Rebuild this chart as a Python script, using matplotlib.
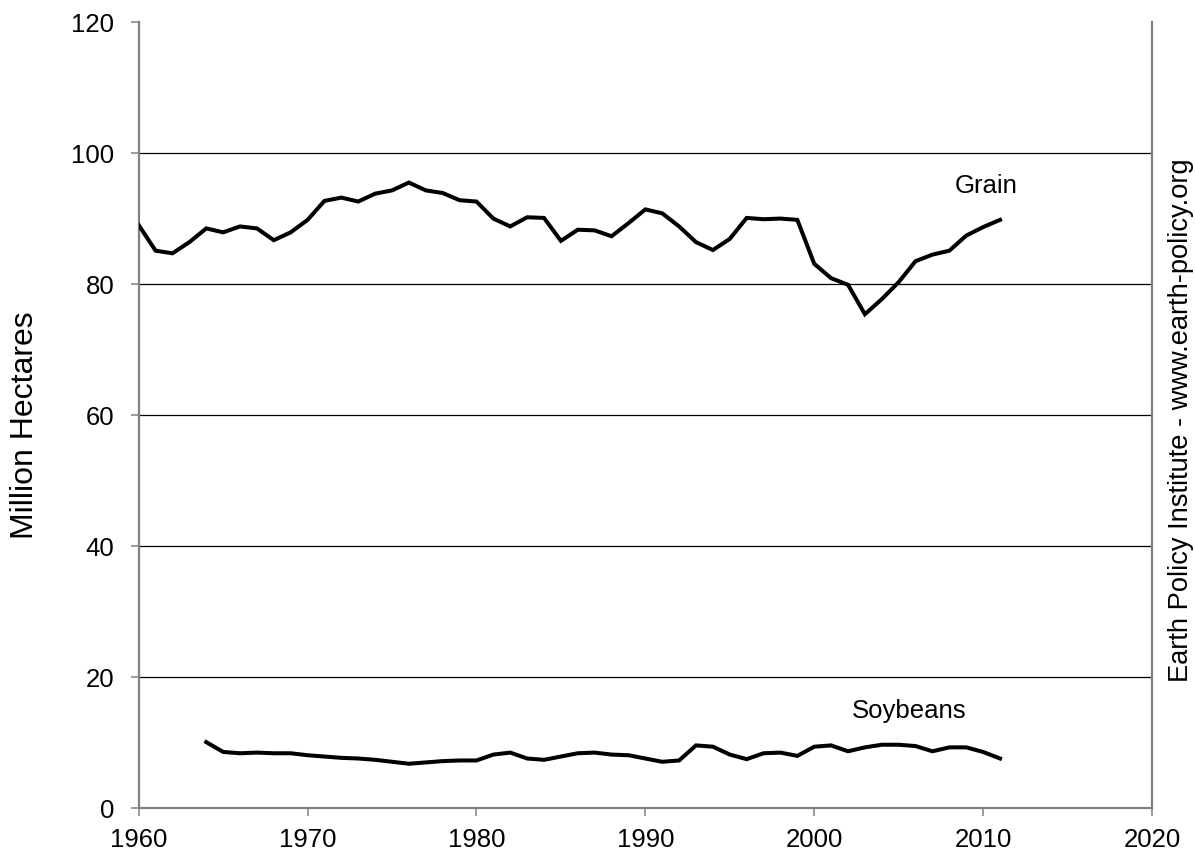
import matplotlib
matplotlib.use("Agg")
import matplotlib.pyplot as plt

years_grain = list(range(1960, 2012))
grain = [89.0, 85.1, 84.7, 86.4, 88.5, 87.9, 88.8, 88.5, 86.7, 87.9,
         89.8, 92.7, 93.2, 92.6, 93.8, 94.3, 95.5, 94.3, 93.9, 92.8,
         92.6, 90.0, 88.8, 90.2, 90.1, 86.6, 88.3, 88.2, 87.3, 89.3,
         91.4, 90.8, 88.8, 86.4, 85.2, 86.9, 90.1, 89.9, 90.0, 89.8,
         83.1, 80.9, 79.9, 75.4, 77.7, 80.3, 83.5, 84.5, 85.1, 87.4,
         88.7, 89.8]

years_soy = list(range(1964, 2012))
soybeans = [10.1, 8.6, 8.4, 8.5, 8.4, 8.4, 8.1, 7.9, 7.7, 7.6,
            7.4, 7.1, 6.8, 7.0, 7.2, 7.3, 7.3, 8.2, 8.5, 7.6,
            7.4, 7.9, 8.4, 8.5, 8.2, 8.1, 7.6, 7.1, 7.3, 9.6,
            9.4, 8.2, 7.5, 8.4, 8.5, 8.0, 9.4, 9.6, 8.7, 9.3,
            9.7, 9.7, 9.5, 8.7, 9.3, 9.3, 8.6, 7.6]

x_ticks = [1960, 1970, 1980, 1990, 2000, 2010, 2020]
y_ticks = [0, 20, 40, 60, 80, 100, 120]

plt.rcParams['font.family'] = ['Liberation Sans', 'DejaVu Sans']

fig = plt.figure(figsize=(11.95, 8.55), dpi=100)
ax = fig.add_axes([138.7 / 1195, 1 - 808.3 / 855, (1152 - 138.7) / 1195, (808.3 - 22) / 855])

for yv in y_ticks[1:-1]:
    ax.axhline(yv, color='black', lw=0.9, zorder=1)

ax.plot(years_grain, grain, color='black', lw=2.9, solid_joinstyle='miter', zorder=3)
ax.plot(years_soy, soybeans, color='black', lw=2.9, solid_joinstyle='miter', zorder=3)

ax.set_xlim(1960, 2020)
ax.set_ylim(0, 120)
ax.set_xticks(x_ticks)
ax.set_yticks(y_ticks)
ax.tick_params(axis='both', direction='out', length=5.5, width=1.1, color='#808080',
               labelsize=18.5, labelcolor='black')
ax.tick_params(axis='x', pad=9)
ax.tick_params(axis='y', pad=12)

for side in ['left', 'bottom', 'right']:
    ax.spines[side].set_color('#808080')
    ax.spines[side].set_linewidth(1.6)
ax.spines['top'].set_visible(False)

fig.text(25 / 1195, 1 - 425 / 855, 'Million Hectares', rotation=90,
         fontsize=23, ha='center', va='center')

ax.text(2010.2, 93.9, 'Grain', fontsize=18.5, ha='center', va='baseline')
ax.text(2005.6, 13.74, 'Soybeans', fontsize=18.5, ha='center', va='baseline')

fig.text(1181 / 1195, 1 - 420 / 855, 'Earth Policy Institute - www.earth-policy.org',
         rotation=90, fontsize=19.6, ha='center', va='center')

fig.savefig('out.png', dpi=100)
